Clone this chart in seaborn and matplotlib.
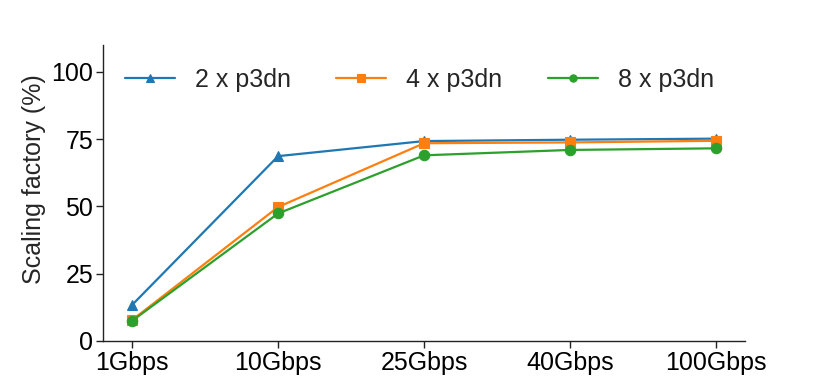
import matplotlib
matplotlib.use("Agg")
import matplotlib.pyplot as plt
import seaborn as sns
import pandas as pd

bandwidths = ["1Gbps", "10Gbps", "25Gbps", "40Gbps", "100Gbps"]
series_names = ["2 x p3dn", "4 x p3dn", "8 x p3dn"]
vals_2 = [13.4, 68.7, 74.3, 74.8, 75.2]
vals_4 = [7.8, 49.8, 73.5, 73.8, 74.4]
vals_8 = [7.5, 47.4, 69.0, 71.0, 71.6]
yticks = [0, 25, 50, 75, 100]

sns.set_style("ticks")
plt.rcParams['font.family'] = ['Liberation Sans', 'DejaVu Sans']

rows = []
for name, vals in zip(series_names, [vals_2, vals_4, vals_8]):
    for i, (b, v) in enumerate(zip(bandwidths, vals)):
        rows.append({"pos": i, "bw": b, "series": name, "value": v})
df = pd.DataFrame(rows)

fig = plt.figure(figsize=(8.3, 3.83), dpi=100)
ax = fig.add_axes([0.124, 0.1097, 0.774, 0.7728])

palette = {series_names[0]: "#1f77b4", series_names[1]: "#ff7f0e", series_names[2]: "#2ca02c"}
markers = {series_names[0]: "^", series_names[1]: "s", series_names[2]: "o"}
sns.lineplot(data=df, x="pos", y="value", hue="series", style="series",
             palette=palette, markers=markers, dashes=False, ax=ax,
             linewidth=1.6, markersize=7.5, markeredgewidth=0.8)
for line in ax.get_lines():
    line.set_markeredgecolor(line.get_color())

ax.set_xlim(-0.2, 4.2)
ax.set_ylim(0, 110)
ax.set_xticks(range(len(bandwidths)))
ax.set_xticklabels(bandwidths)
ax.set_yticks(yticks)
ax.tick_params(axis='both', labelsize=18, length=5, width=1, colors='#222222', labelcolor='black', pad=2)
ax.set_xlabel("")
ax.set_ylabel("Scaling factory (%)", fontsize=18)
ax.yaxis.set_label_coords(-0.088, 0.547)
for s in ["left", "bottom"]:
    ax.spines[s].set_color('#222222')
    ax.spines[s].set_linewidth(1.0)
sns.despine(ax=ax)

leg = ax.legend(loc="upper left", ncol=3, frameon=False, fontsize=18,
                markerscale=0.7, handlelength=2.0, columnspacing=1.8)
for h in leg.legend_handles:
    h.set_markeredgecolor(h.get_color())

fig.savefig("out.png", dpi=100)
